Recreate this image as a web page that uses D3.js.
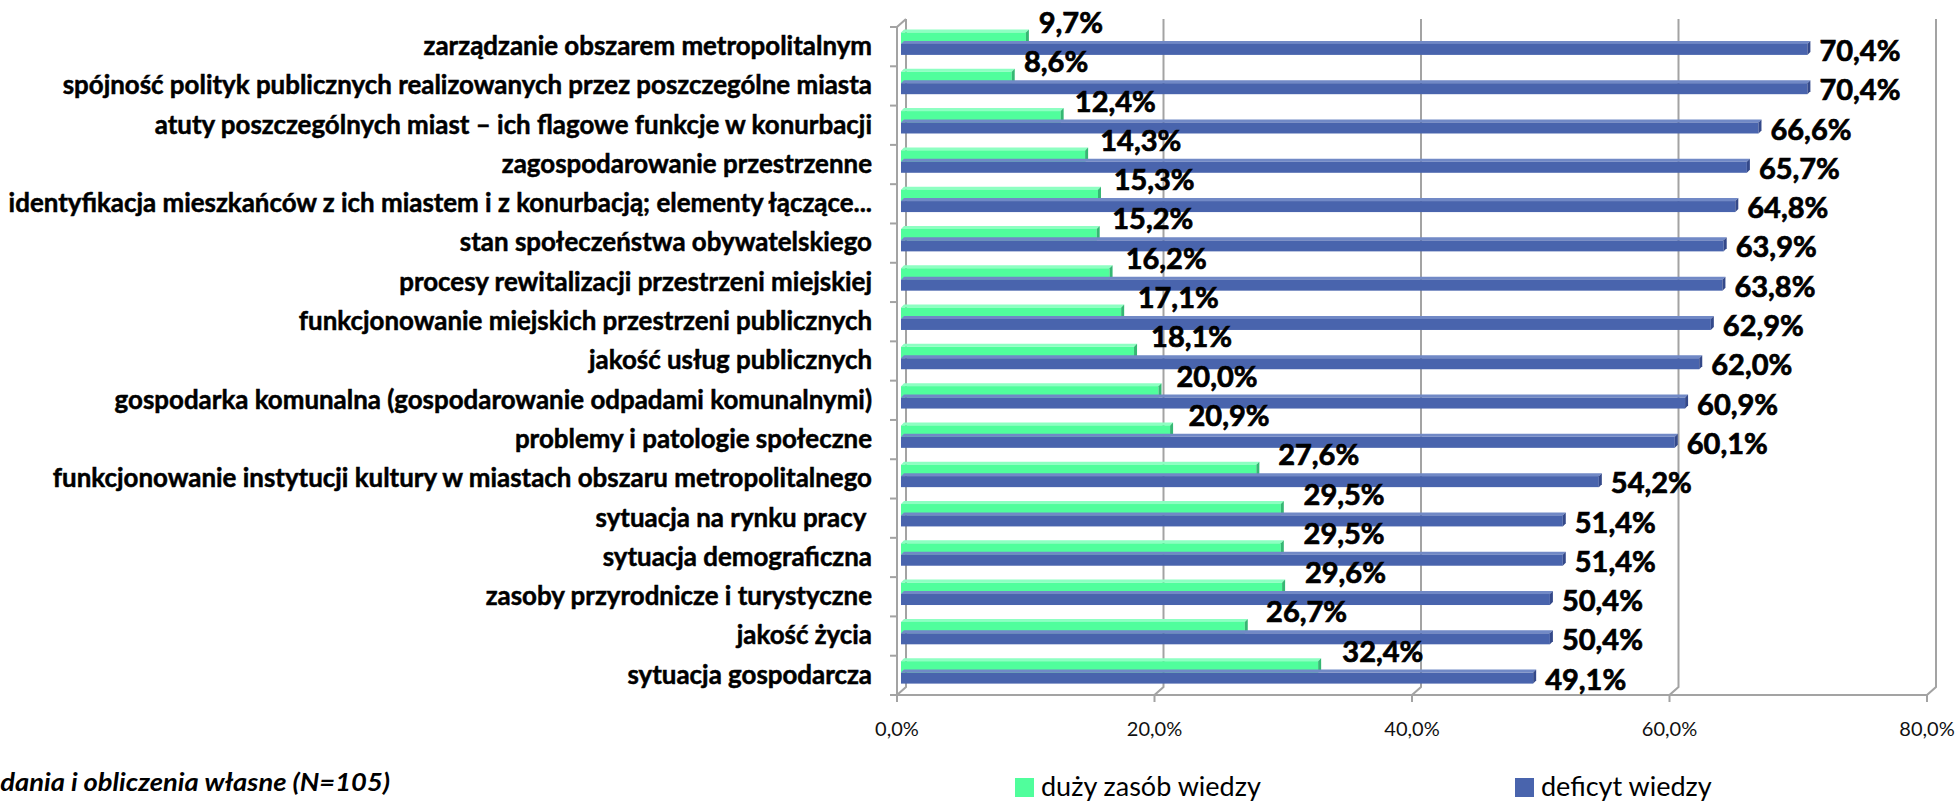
<!DOCTYPE html>
<html><head><meta charset="utf-8">
<script src="https://cdn.jsdelivr.net/npm/d3@7/dist/d3.min.js"></script>
<style>
html,body{margin:0;padding:0;background:#fff;}
svg{display:block;}
text{white-space:pre;}
</style></head>
<body>
<script>
const categories = [
  "zarządzanie obszarem metropolitalnym",
  "spójność polityk publicznych realizowanych przez poszczególne miasta",
  "atuty poszczególnych miast – ich flagowe funkcje w konurbacji",
  "zagospodarowanie przestrzenne",
  "identyfikacja mieszkańców z ich miastem i z konurbacją; elementy łączące...",
  "stan społeczeństwa obywatelskiego",
  "procesy rewitalizacji przestrzeni miejskiej",
  "funkcjonowanie miejskich przestrzeni publicznych",
  "jakość usług publicznych",
  "gospodarka komunalna (gospodarowanie odpadami komunalnymi)",
  "problemy i patologie społeczne",
  "funkcjonowanie instytucji kultury w miastach obszaru metropolitalnego",
  "sytuacja na rynku pracy ",
  "sytuacja demograficzna",
  "zasoby przyrodnicze i turystyczne",
  "jakość życia",
  "sytuacja gospodarcza"
];
const duzyZasob = [9.7, 8.6, 12.4, 14.3, 15.3, 15.2, 16.2, 17.1, 18.1, 20.0, 20.9, 27.6, 29.5, 29.5, 29.6, 26.7, 32.4];
const deficyt   = [70.4, 70.4, 66.6, 65.7, 64.8, 63.9, 63.8, 62.9, 62.0, 60.9, 60.1, 54.2, 51.4, 51.4, 50.4, 50.4, 49.1];
const xTicks = [0, 20, 40, 60, 80];
const seriesNames = ["duży zasób wiedzy", "deficyt wiedzy"];
const sourceNote = "Źródło: badania i obliczenia własne (N=105)";

const W = 1959, H = 801;
const fmt = v => v.toFixed(1).replace(".", ",") + "%";

const svg = d3.select("body").append("svg").attr("width", W).attr("height", H)
  .style("font-family", "Lato, 'Open Sans', sans-serif");
svg.append("rect").attr("width", W).attr("height", H).attr("fill", "#fff");

// front axis scale and back-wall depth
const xf = d3.scaleLinear().domain([0, 80]).range([897, 1927]);
const DX = 9, DY = -8;          // wall depth offset
const BD = 4;                   // bar mid-depth offset
const xb = v => xf(v) + BD;
const y = d3.scaleBand().domain(categories).range([27, 695]).padding(0);
const floorY = 695;
const topY = 19;
const gridColor = "#a3a3a3";

const g = svg.append("g");

// gridlines (back wall) with diagonal to floor front edge
xTicks.forEach(t => {
  const x0 = xf(t);
  g.append("path")
    .attr("d", `M${x0},${floorY + 7} L${x0},${floorY} L${x0 + DX},${floorY + DY} L${x0 + DX},${topY}`)
    .attr("fill", "none").attr("stroke", gridColor).attr("stroke-width", 2);
});
// floor front edge
g.append("line").attr("x1", xf(0)).attr("x2", xf(80)).attr("y1", floorY).attr("y2", floorY)
  .attr("stroke", gridColor).attr("stroke-width", 2);
// front vertical (category) axis
g.append("path")
  .attr("d", `M${xf(0)},${floorY} L${xf(0)},${y.range()[0]} L${xf(0) + DX},${topY}`)
  .attr("fill", "none").attr("stroke", gridColor).attr("stroke-width", 2);
// category tick marks
const bounds = categories.map(c => y(c)).concat([y.range()[1]]);
bounds.forEach(b => {
  g.append("line").attr("x1", xf(0) - 7).attr("x2", xf(0)).attr("y1", b).attr("y2", b)
    .attr("stroke", gridColor).attr("stroke-width", 2);
});

// x tick labels
svg.append("g").selectAll("text").data(xTicks).join("text")
  .attr("x", d => xf(d)).attr("y", 736)
  .attr("text-anchor", "middle").attr("font-size", 20).attr("fill", "#111")
  .text(d => fmt(d));

// 3D bar helper
function bar3d(sel, x0, x1, y0, h, col) {
  const d = 3;
  sel.append("path")
    .attr("d", `M${x0},${y0} L${x0 + d},${y0 - d} L${x1 + d},${y0 - d} L${x1},${y0} Z`)
    .attr("fill", col.top);
  sel.append("rect").attr("x", x0).attr("y", y0).attr("width", Math.max(0, x1 - x0)).attr("height", h)
    .attr("fill", col.main);
  sel.append("path")
    .attr("d", `M${x1},${y0} L${x1 + d},${y0 - d} L${x1 + d},${y0 + h - d} L${x1},${y0 + h} Z`)
    .attr("fill", col.end);
}
const greenCol = { main: "#50fe9c", top: "#8dffc2", end: "#35b873" };
const blueCol  = { main: "#4964ad", top: "#7189c6", end: "#34498a" };

const bw = y.bandwidth();
const barsG = svg.append("g");
categories.forEach((c, i) => {
  const b = y(c);
  const gy = b + bw * 0.14, gh = bw * 0.29;
  const by = gy + gh, bh = bw * 0.28;
  bar3d(barsG, xb(0), xb(duzyZasob[i]), gy, gh, greenCol);
  bar3d(barsG, xb(0), xb(deficyt[i]), by, bh, blueCol);
});

// value labels
const lblG = svg.append("g").attr("font-weight", 700).attr("font-size", 29).attr("fill", "#000")
  .attr("stroke", "#000").attr("stroke-width", 0.7);
categories.forEach((c, i) => {
  const b = y(c);
  const v1 = duzyZasob[i], v2 = deficyt[i];
  lblG.append("text").attr("x", xb(v1) + 8 + 0.5 * v1).attr("y", b + 6).text(fmt(v1));
  lblG.append("text").attr("x", xb(v2) + 12).attr("y", b + 34).text(fmt(v2));
});

// category labels (fit to the original's label column width)
const catG = svg.append("g").attr("font-weight", 700).attr("font-size", 26).attr("fill", "#000")
  .attr("stroke", "#000").attr("stroke-width", 0.5);
const catTexts = categories.map(c => catG.append("text").attr("text-anchor", "end").text(c));
const maxW = d3.max(catTexts, t => t.node().getComputedTextLength());
const sx = Math.max(0.8, Math.min(1.15, 864 / maxW));
catTexts.forEach((t, i) => {
  const c = categories[i];
  t.attr("transform", `translate(872,${y(c) + 28}) scale(${sx},1)`);
});

// legend
const legG = svg.append("g").attr("font-size", 27).attr("fill", "#000");
const legX = [1015, 1515];
const legCols = [greenCol.main, blueCol.main];
seriesNames.forEach((n, i) => {
  legG.append("rect").attr("x", legX[i]).attr("y", 778).attr("width", 19).attr("height", 19).attr("fill", legCols[i]);
  legG.append("text").attr("x", legX[i] + 26).attr("y", 796).text(n);
});

// source note (cut at the left edge as in the original)
const note = svg.append("text").attr("font-weight", 700).attr("font-style", "italic")
  .attr("font-size", 24).attr("fill", "#000").attr("text-anchor", "end").text(sourceNote);
// fit visible tail "dania i obliczenia własne (N=105)" to ~390px like the original
const tmp = svg.append("text").attr("font-weight", 700).attr("font-style", "italic")
  .attr("font-size", 24).text(sourceNote.slice(sourceNote.indexOf("dania")));
const tailW = tmp.node().getComputedTextLength();
tmp.remove();
const nsx = 390 / tailW;
note.attr("transform", `translate(390,791) scale(${nsx},1)`);
</script>
</body></html>
